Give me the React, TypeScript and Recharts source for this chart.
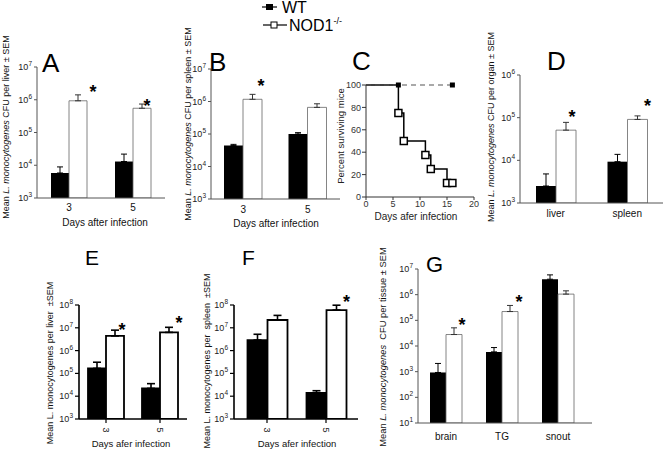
import React from 'react';
import { BarChart, Bar, XAxis, YAxis, ErrorBar, LabelList, LineChart, Line } from 'recharts';

const FONT = '"Liberation Sans", Arial, Helvetica, sans-serif';

// A: CFU per liver, days 3 / 5
const dayCats = ['3', '5'];
const liverWT = [5800, 13000];
const liverWTSem = [3100, 8900];
const liverKO = [930000, 550000];
const liverKOSem = [480000, 190000];
const liverSig = [true, true];

// B: CFU per spleen
const spleenWT = [44000, 100000];
const spleenWTSem = [4000, 10000];
const spleenKO = [1170000, 660000];
const spleenKOSem = [490000, 190000];
const spleenSig = [true, false];

// C: survival (Kaplan-Meier)
const koDays = [0, 6, 7, 11, 12, 15, 16];
const koSurvival = [100, 75, 50, 37.5, 25, 12.5, 12.5];
const wtDays = [0, 6, 16];
const wtSurvival = [100, 100, 100];

// D: CFU per organ
const organCats = ['liver', 'spleen'];
const organWT = [2500, 9300];
const organWTSem = [2300, 4500];
const organKO = [51000, 91000];
const organKOSem = [26600, 19000];
const organSig = [true, true];

// E: per liver (second experiment)
const liver2WT = [166000, 22000];
const liver2WTSem = [143000, 13500];
const liver2KO = [4400000, 6300000];
const liver2KOSem = [3500000, 4200000];
const liver2Sig = [true, true];

// F: per spleen (second experiment)
const spleen2WT = [2900000, 14000];
const spleen2WTSem = [2300000, 3400];
const spleen2KO = [22000000, 60000000];
const spleen2KOSem = [13000000, 38000000];
const spleen2Sig = [false, true];

// G: CFU per tissue
const tissueCats = ['brain', 'TG', 'snout'];
const tissueWT = [930, 5900, 4000000];
const tissueWTSem = [1160, 2800, 1900000];
const tissueKO = [28000, 220000, 1050000];
const tissueKOSem = [23000, 160000, 360000];
const tissueSig = [true, true, false];

type Rect = { x0: number; y0: number; x1: number; y1: number };

const PowTick = (props: any) => {
  const { x, y, payload } = props;
  const e = Math.round(Math.log10(payload.value));
  return (
    <text x={x} y={y + 3} textAnchor="end" fontSize={9} fill="#222" fontFamily={FONT}>
      10<tspan dy={-4} fontSize={6.5}>{e}</tspan>
    </text>
  );
};

const makeCatTick = (prism: boolean, dy: number) => (props: any) => {
  const { x, y, payload } = props;
  if (prism) {
    return (
      <text transform={`translate(${x},${y + dy}) rotate(90)`} textAnchor="middle" dominantBaseline="central"
        fontSize={9} fill="#222" fontFamily={FONT}>{payload.value}</text>
    );
  }
  return (
    <text x={x} y={y + dy} textAnchor="middle" fontSize={10} fill="#111" fontFamily={FONT}>{payload.value}</text>
  );
};

interface LogBarsProps {
  rect: Rect;
  cats: string[];
  wt: number[];
  wtSem: number[];
  ko: number[];
  koSem: number[];
  sig: boolean[];
  exps: number[];
  barSize: number;
  prism?: boolean;
  pad?: { left: number; right: number };
  stars: [number, number][];
  tickDy: number;
}

const LogBars = ({ rect, cats, wt, wtSem, ko, koSem, sig, exps, barSize, prism = false, pad, stars, tickDy }: LogBarsProps) => {
  const yw = 40, mt = 14, mr = 12, xh = 40;
  const rows = cats.map((c, i) => ({ cat: c, wt: wt[i], ko: ko[i], wtE: [0, wtSem[i]], koE: [0, koSem[i]] }));
  const ticks = exps.map(e => Math.pow(10, e));
  const axisStroke = prism ? '#000' : '#555';
  const axisW = prism ? 1.6 : 1;
  const barStroke = prism ? '#000' : '#666';
  const barW = prism ? 1.8 : 0.8;
  const errW = prism ? 1.6 : 1;

  const star = (props: any) => {
    const vb = props.viewBox || props;
    const i = props.index ?? ko.indexOf(props.value);
    if (!sig[i]) return null;
    const [dx, dy] = stars[i];
    const cx = vb.x + vb.width + dx;
    const cy = vb.y + dy;
    return (
      <text key={`s${i}`} x={cx} y={cy + 10} textAnchor="middle" fontSize={18} fontWeight="bold" fill="#000" fontFamily={FONT}>*</text>
    );
  };

  return (
    <div style={{ position: 'absolute', left: rect.x0 - yw, top: rect.y0 - mt }}>
      <BarChart width={rect.x1 - rect.x0 + yw + mr} height={rect.y1 - rect.y0 + mt + xh} data={rows}
        margin={{ top: mt, right: mr, left: 0, bottom: 0 }} barGap={0}>
        <XAxis dataKey="cat" height={xh} padding={pad ?? { left: 0, right: 0 }} interval={0}
          axisLine={{ stroke: axisStroke, strokeWidth: axisW }}
          tickLine={prism ? { stroke: '#000', strokeWidth: 1.2 } : false}
          tickSize={prism ? 4 : 0} tickMargin={0} tick={makeCatTick(prism, tickDy)} />
        <YAxis type="number" scale="log" domain={[ticks[0], ticks[ticks.length - 1]]} ticks={ticks}
          allowDataOverflow interval={0} width={yw}
          axisLine={{ stroke: axisStroke, strokeWidth: axisW }}
          tickLine={{ stroke: axisStroke, strokeWidth: prism ? 1.2 : 1 }} tickSize={prism ? 4 : 3} tickMargin={2}
          tick={<PowTick />} />
        <Bar dataKey="wt" fill="#000" stroke={prism ? '#000' : 'none'} strokeWidth={barW} barSize={barSize} isAnimationActive={false}>
          <ErrorBar dataKey="wtE" direction="y" width={prism ? 4 : 3} stroke="#000" strokeWidth={errW} />
        </Bar>
        <Bar dataKey="ko" fill="#fff" stroke={barStroke} strokeWidth={barW} barSize={barSize} isAnimationActive={false}>
          <ErrorBar dataKey="koE" direction="y" width={prism ? 4 : 3} stroke={prism ? '#000' : '#333'} strokeWidth={errW} />
          <LabelList dataKey="ko" content={star} />
        </Bar>
      </BarChart>
    </div>
  );
};

const KoDot = (props: any) => {
  const { cx, cy, index } = props;
  if (index === 0) return <g key={`k${index}`} />;
  return <rect key={`k${index}`} x={cx - 3.5} y={cy - 3.5} width={7} height={7} fill="#fff" stroke="#000" strokeWidth={1.5} />;
};

const WtDot = (props: any) => {
  const { cx, cy, index } = props;
  if (index === 0) return <g key={`w${index}`} />;
  return <rect key={`w${index}`} x={cx - 2.5} y={cy - 2.5} width={5} height={5} fill="#000" />;
};

const SurvivalPanel = () => {
  const r: Rect = { x0: 366, y0: 85, x1: 474, y1: 197 };
  const yw = 30, mt = 10, mr = 12, xh = 20;
  const ko = koDays.map((d, i) => ({ day: d, pct: koSurvival[i] }));
  const wt = wtDays.map((d, i) => ({ day: d, pct: wtSurvival[i] }));
  const tickStyle = { fontSize: 9, fill: '#333', fontFamily: FONT };
  return (
    <div style={{ position: 'absolute', left: r.x0 - yw, top: r.y0 - mt }}>
      <LineChart width={r.x1 - r.x0 + yw + mr} height={r.y1 - r.y0 + mt + xh} margin={{ top: mt, right: mr, left: 0, bottom: 0 }}>
        <XAxis type="number" dataKey="day" domain={[0, 20]} ticks={[0, 5, 10, 15, 20]} interval={0} height={xh}
          axisLine={{ stroke: '#333' }} tickLine={{ stroke: '#333' }} tickSize={3} tickMargin={1} tick={tickStyle} />
        <YAxis type="number" domain={[0, 100]} ticks={[0, 20, 40, 60, 80, 100]} interval={0} width={yw}
          axisLine={{ stroke: '#333' }} tickLine={{ stroke: '#333' }} tickSize={4} tickMargin={1} tick={tickStyle} />
        <Line data={ko} dataKey="pct" type="stepAfter" stroke="#000" strokeWidth={1.5} dot={KoDot} isAnimationActive={false} />
        <Line data={wt} dataKey="pct" type="linear" stroke="#555" strokeWidth={1.2} strokeDasharray="5 4" dot={WtDot} isAnimationActive={false} />
      </LineChart>
    </div>
  );
};

const VLabel = ({ cx, cy, fs = 9, italic = true, pre, post }: { cx: number; cy: number; fs?: number; italic?: boolean; pre: string; post: string }) => (
  <text transform={`translate(${cx},${cy}) rotate(-90)`} textAnchor="middle" dominantBaseline="central"
    fontSize={fs} fill="#111" style={{ whiteSpace: 'pre' }}>
    {pre}<tspan fontStyle={italic ? 'italic' : 'normal'}>L. monocytogenes</tspan>{post}
  </text>
);

const Overlay = () => (
  <svg width={664} height={452} style={{ position: 'absolute', left: 0, top: 0, pointerEvents: 'none' }} fontFamily={FONT}>
    {/* legend */}
    <line x1={262} y1={7} x2={277} y2={7} stroke="#000" strokeWidth={1.2} />
    <rect x={266} y={4} width={7} height={6} fill="#000" />
    <text x={282} y={12.5} fontSize={16} fill="#000">WT</text>
    <line x1={263} y1={25} x2={287} y2={25} stroke="#000" strokeWidth={1.2} />
    <rect x={271} y={22} width={6} height={6} fill="#fff" stroke="#000" strokeWidth={1} />
    <text x={289} y={31} fontSize={16} fill="#000">NOD1<tspan dy={-7} fontSize={9}>-/-</tspan></text>

    {/* panel letters */}
    <text x={42} y={72} fontSize={26}>A</text>
    <text x={209} y={71} fontSize={26}>B</text>
    <text x={352} y={70} fontSize={26}>C</text>
    <text x={547} y={70} fontSize={26}>D</text>
    <text x={85} y={265} fontSize={21}>E</text>
    <text x={242} y={265} fontSize={21}>F</text>
    <text x={426} y={272} fontSize={22}>G</text>

    {/* axis titles */}
    <text x={105} y={226} fontSize={10} textAnchor="middle" fill="#111">Days after infection</text>
    <text x={276} y={227} fontSize={10} textAnchor="middle" fill="#111">Days after infection</text>
    <text x={416} y={220} fontSize={10} textAnchor="middle" fill="#222">Days afer infection</text>
    <text x={131} y={447} fontSize={9.5} textAnchor="middle" fill="#111">Days afer infection</text>
    <text x={297} y={447} fontSize={9.5} textAnchor="middle" fill="#111">Days afer infection</text>
    <text transform="translate(340,136) rotate(-90)" textAnchor="middle" dominantBaseline="central" fontSize={9.5} fill="#222">Percent surviving mice</text>

    <VLabel cx={6} cy={127} pre="Mean " post=" CFU per liver ± SEM" />
    <VLabel cx={188} cy={124} pre="Mean " post=" CFU per spleen ± SEM" />
    <VLabel cx={491} cy={127} pre="Mean " post=" CFU per organ ± SEM" />
    <VLabel cx={50} cy={363} italic={false} pre="Mean " post=" per liver  ±SEM" />
    <VLabel cx={207} cy={361} italic={false} pre="Mean " post=" per  spleen  ±SEM" />
    <VLabel cx={383} cy={347} fs={9.3} pre="Mean " post="  CFU per tissue ± SEM" />
  </svg>
);

export default function App() {
  return (
    <div style={{ position: 'absolute', left: 0, top: 0, width: 664, height: 452, background: '#fff', overflow: 'hidden', fontFamily: FONT }}>
      <LogBars rect={{ x0: 37, y0: 67, x1: 165, y1: 198 }} cats={dayCats} wt={liverWT} wtSem={liverWTSem}
        ko={liverKO} koSem={liverKOSem} sig={liverSig} exps={[3, 4, 5, 6, 7]} barSize={18}
        stars={[[6, -13], [-4, -6]]} tickDy={13} />
      <LogBars rect={{ x0: 211, y0: 69, x1: 340, y1: 199 }} cats={dayCats} wt={spleenWT} wtSem={spleenWTSem}
        ko={spleenKO} koSem={spleenKOSem} sig={spleenSig} exps={[3, 4, 5, 6, 7]} barSize={19}
        stars={[[-1, -17], [0, 0]]} tickDy={14} />
      <SurvivalPanel />
      <LogBars rect={{ x0: 520, y0: 75, x1: 663, y1: 203 }} cats={organCats} wt={organWT} wtSem={organWTSem}
        ko={organKO} koSem={organKOSem} sig={organSig} exps={[3, 4, 5, 6]} barSize={20}
        stars={[[-4, -17], [0, -17]]} tickDy={14} />
      <LogBars rect={{ x0: 79, y0: 305, x1: 187, y1: 419 }} cats={dayCats} wt={liver2WT} wtSem={liver2WTSem}
        ko={liver2KO} koSem={liver2KOSem} sig={liver2Sig} exps={[3, 4, 5, 6, 7, 8]} barSize={18} prism
        stars={[[-2, -10], [1, -13]]} tickDy={7} />
      <LogBars rect={{ x0: 234, y0: 305, x1: 358, y1: 419 }} cats={dayCats} wt={spleen2WT} wtSem={spleen2WTSem}
        ko={spleen2KO} koSem={spleen2KOSem} sig={spleen2Sig} exps={[3, 4, 5, 6, 7, 8]} barSize={20} prism
        pad={{ left: 3.5, right: 2.5 }} stars={[[0, 0], [0, -12]]} tickDy={7} />
      <LogBars rect={{ x0: 418, y0: 269, x1: 592, y1: 423 }} cats={tissueCats} wt={tissueWT} wtSem={tissueWTSem}
        ko={tissueKO} koSem={tissueKOSem} sig={tissueSig} exps={[1, 2, 3, 4, 5, 6, 7]} barSize={16}
        pad={{ left: 0, right: 6 }} stars={[[0, -14], [1, -14], [0, 0]]} tickDy={17} />
      <Overlay />
    </div>
  );
}
